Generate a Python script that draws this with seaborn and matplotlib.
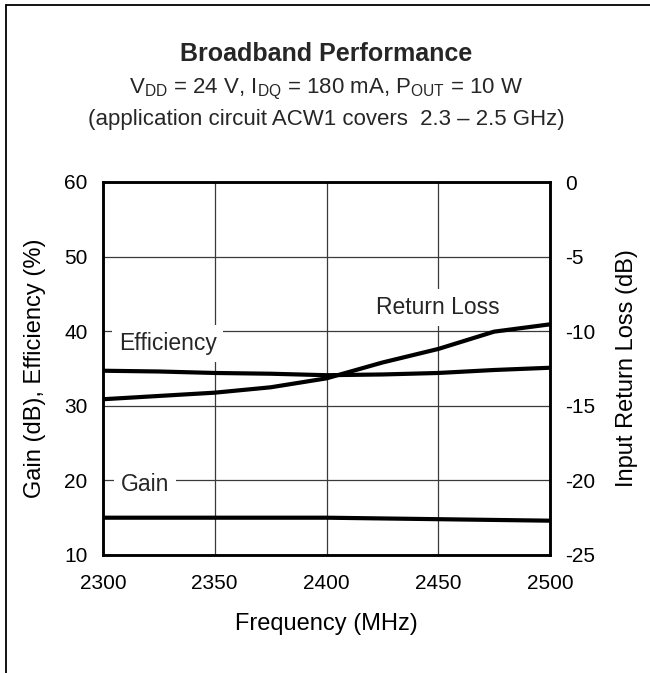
import matplotlib
matplotlib.use("Agg")
import matplotlib.pyplot as plt
from matplotlib.lines import Line2D
import pandas as pd
import seaborn as sns

# values
freq_mhz = [2300, 2325, 2350, 2375, 2400, 2425, 2450, 2475, 2500]
gain_db = [15.0, 15.0, 15.0, 15.0, 15.0, 14.9, 14.8, 14.7, 14.6]
efficiency_pct = [34.7, 34.6, 34.4, 34.3, 34.1, 34.2, 34.4, 34.8, 35.1]
return_loss_db = [-14.56, -14.34, -14.12, -13.76, -13.16, -12.1, -11.19, -10.03, -9.54]

x_ticks = [2300, 2350, 2400, 2450, 2500]
left_ticks = [10, 20, 30, 40, 50, 60]
right_ticks = [-25, -20, -15, -10, -5, 0]

df = pd.DataFrame({"freq": freq_mhz, "gain": gain_db, "eff": efficiency_pct, "rl": return_loss_db})

sns.set_theme(style="white")
plt.rcParams["font.family"] = ["Liberation Sans", "DejaVu Sans"]
plt.rcParams["mathtext.default"] = "regular"
plt.rcParams["axes.unicode_minus"] = False

W, H = 650, 673
fig = plt.figure(figsize=(W / 100, H / 100), dpi=100)
fig.subplots_adjust(left=103 / W, right=550 / W, top=1 - 182 / H, bottom=1 - 555 / H)
ax = fig.add_subplot(111)
ax2 = ax.twinx()

line_kw = dict(color="black", linewidth=3.0)
sns.lineplot(data=df, x="freq", y="gain", ax=ax, **line_kw)
sns.lineplot(data=df, x="freq", y="eff", ax=ax, **line_kw)
sns.lineplot(data=df, x="freq", y="rl", ax=ax2, **line_kw)

ax.set_xlim(2300, 2500)
ax.set_ylim(10, 60)
ax2.set_ylim(-25, 0)
ax.set_xticks(x_ticks)
ax.set_yticks(left_ticks)
ax2.set_yticks(right_ticks)
ax.grid(True, color="#3a3a3a", linewidth=0.9)
ax.set_axisbelow(True)

for a in (ax, ax2):
    for s in a.spines.values():
        s.set_color("black")
        s.set_linewidth(1.8)
    a.tick_params(length=0, labelsize=15, colors="black")
ax.tick_params(axis="y", pad=11)
ax.tick_params(axis="x", pad=14)
ax2.tick_params(axis="y", pad=11)

lab_fs = 17
ax.set_xlabel("Frequency (MHz)", fontsize=lab_fs, color="black")
ax.set_ylabel("Gain (dB), Efficiency (%)", fontsize=lab_fs, color="black")
ax2.set_ylabel("Input Return Loss (dB)", fontsize=lab_fs, color="black")
ax.xaxis.set_label_coords(0.5, (555 - 613) / 373)
ax.yaxis.set_label_coords((46 - 103) / 447, 0.5)
ax2.yaxis.set_label_coords((616 - 103) / 447, 0.5)

box = dict(facecolor="white", edgecolor="none", pad=5)
ax.text(2307, 38.4, "Efficiency", fontsize=16.5, va="center", ha="left", bbox=box, zorder=3)
ax.text(2308, 19.5, "Gain", fontsize=16.5, va="center", ha="left", bbox=box, zorder=3)
ax.text(2450, 43.2, "Return Loss", fontsize=16.5, va="center", ha="center", bbox=box, zorder=3)

cx = (103 + 550) / 2 / W
fig.text(cx, 1 - 61 / H, "Broadband Performance", fontsize=18, fontweight="bold",
         ha="center", va="baseline")
fig.text(cx, 1 - 93 / H, r"V$_{DD}$ = 24 V, I$_{DQ}$ = 180 mA, P$_{OUT}$ = 10 W",
         fontsize=16, ha="center", va="baseline")
fig.text(cx, 1 - 125 / H, "(application circuit ACW1 covers  2.3 \u2013 2.5 GHz)",
         fontsize=16, ha="center", va="baseline")

# outer frame: left and top edges
fx0, fy = 5.5 / W, 1 - 4.5 / H
fig.add_artist(Line2D([fx0, fx0], [0, fy], color="black", linewidth=1.3))
fig.add_artist(Line2D([fx0, 1], [fy, fy], color="black", linewidth=1.3))

fig.savefig("out.png", dpi=100)
